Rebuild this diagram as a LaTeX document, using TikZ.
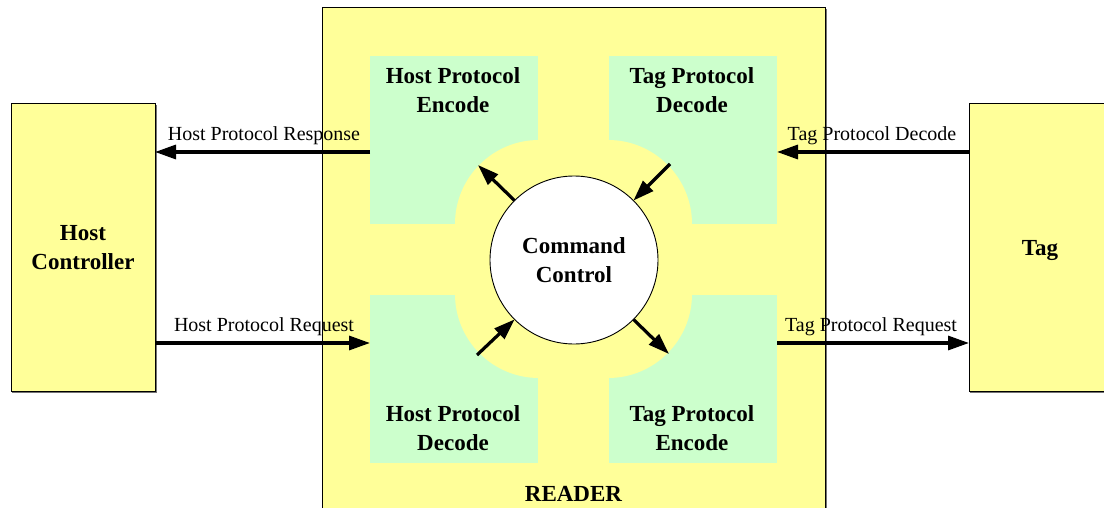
\documentclass[tikz,border=0pt]{standalone}
\usepackage{fontspec}
\setmainfont{Liberation Serif}
\usetikzlibrary{arrows.meta,calc}
\definecolor{rdyellow}{HTML}{FFFF99}
\definecolor{rdgreen}{HTML}{CCFFCC}
\begin{document}
\begin{tikzpicture}[x=1pt,y=-1pt,
  ybox/.style={rectangle, draw=black, line width=1pt, fill=rdyellow, inner sep=0pt, outer sep=0pt,
     preaction={draw=black!55, line width=1.2pt, transform canvas={shift={(1.3pt,-1.3pt)}}}},
  gbox/.style={rectangle, fill=rdgreen, draw=none, minimum width=168pt, minimum height=168pt, inner sep=0pt, outer sep=0pt},
  bigtxt/.style={font=\fontsize{23}{29}\selectfont\bfseries, align=center, inner sep=0pt},
  lbl/.style={font=\fontsize{20}{24}\selectfont, inner sep=0pt},
  arr/.style={draw=black, line width=3.2pt, -{Triangle[length=21pt,width=14pt]}}]
\useasboundingbox (0,0) rectangle (1104,508);
\clip (0,0) rectangle (1104,508);
% reader
\node[ybox, minimum width=503pt, minimum height=512pt] (reader) at (573.5,264) {};
\node[bigtxt, anchor=base] (readerlbl) at (573.5,501.7) {READER};
% green blocks
\node[gbox] (hpe) at (454,140) {};
\node[gbox] (tpd) at (693,140) {};
\node[gbox] (hpd) at (454,379) {};
\node[gbox] (tpe) at (693,379) {};
\fill[rdyellow, rounded corners=84pt] (455,140) rectangle (692,378);
\node[bigtxt] (hpetxt) at (453,90) {Host Protocol\\Encode};
\node[bigtxt] (tpdtxt) at (692,90) {Tag Protocol\\Decode};
\node[bigtxt] (hpdtxt) at (453,428) {Host Protocol\\Decode};
\node[bigtxt] (tpetxt) at (692,428) {Tag Protocol\\Encode};
% command control
\node[circle, draw=black, line width=0.9pt, fill=white, minimum size=168pt, inner sep=0pt, outer sep=0pt, bigtxt] (cc) at (574,260) {Command\\Control};
\draw[arr] (cc.135) -- ($(cc)+(-96,-95)$);
\draw[arr] ($(cc)+(96,-96)$) -- (cc.45);
\draw[arr] ($(cc)+(-97,95)$) -- (cc.225);
\draw[arr] (cc.315) -- ($(cc)+(95,94)$);
% outer boxes
\node[ybox, minimum width=144pt, minimum height=287pt, bigtxt] (host) at (83,247.5) {Host\\Controller};
\node[ybox, minimum width=144pt, minimum height=287pt] (tag) at (1041,247.5) {};
\node[bigtxt, anchor=base] (tagtxt) at (1040,255) {Tag};
% connectors
\draw[arr] (hpe.west |- 0,152) -- (host.east |- 0,152);
\draw[arr] (host.east |- 0,343) -- (hpd.west |- 0,343);
\draw[arr] (tag.west |- 0,152) -- (tpd.east |- 0,152);
\draw[arr] (tpe.east |- 0,343) -- (tag.west |- 0,343);
\node[lbl, anchor=base] (l1) at (264,141) {Host Protocol Response};
\node[lbl, anchor=base] (l2) at (264,331) {Host Protocol Request};
\node[lbl, anchor=base] (l3) at (872,141) {Tag Protocol Decode};
\node[lbl, anchor=base] (l4) at (871,331) {Tag Protocol Request};
\end{tikzpicture}
\end{document}
